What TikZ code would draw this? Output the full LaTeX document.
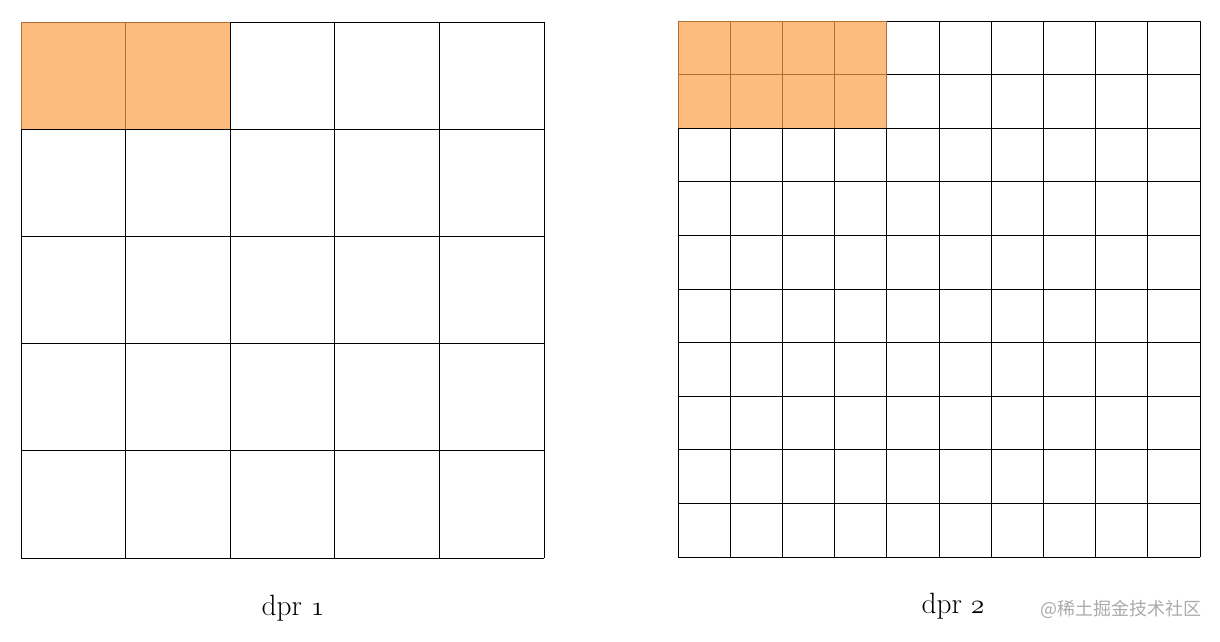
\documentclass[tikz,border=0pt]{standalone}
\usepackage{fontspec}
\newfontfamily\cjk{Noto Sans CJK SC}
\definecolor{hilite}{RGB}{252,160,70}
\definecolor{markgray}{RGB}{170,170,170}

\begin{document}
\begin{tikzpicture}[x=0.75pt, y=-0.75pt,
  gridline/.style={line width=0.6pt, black},
  marked/.style={fill=hilite, fill opacity=0.7},
  caption/.style={font=\fontsize{22}{26}\selectfont}]
\useasboundingbox (0,0) rectangle (1220,642);

\begin{scope}[shift={(21,22)}]
\foreach \i in {0,...,5} {
  \draw[gridline] (104.6*\i,0) -- (104.6*\i,536);
  \draw[gridline] (0,107.2*\i) -- (523,107.2*\i);
}
\fill[marked] (0,0) rectangle (209.2,107.2);
\end{scope}
\node[caption] (dprone) at (293,608) {dpr $\mathnormal{1}$};


\begin{scope}[shift={(678,21)}]
\foreach \i in {0,...,10} {
  \draw[gridline] (52.2*\i,0) -- (52.2*\i,536);
  \draw[gridline] (0,53.6*\i) -- (522,53.6*\i);
}
\fill[marked] (0,0) rectangle (208.8,107.2);
\end{scope}
\node[caption] (dprtwo) at (953,606) {dpr $\mathnormal{2}$};

\node[text=markgray, font=\cjk\fontsize{13.5}{16}\selectfont] (mark) at (1121,609) {@稀土掘金技术社区};
\end{tikzpicture}
\end{document}
